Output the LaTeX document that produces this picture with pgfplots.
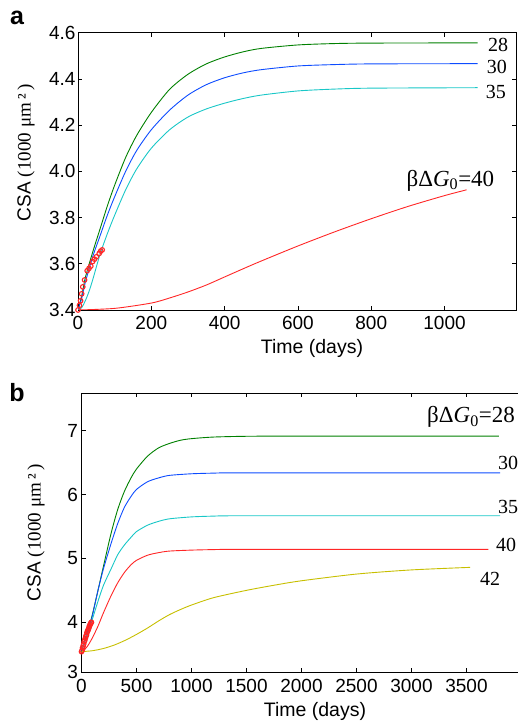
\documentclass[border=0pt]{standalone}
\usepackage{fontspec}
\setmainfont{Liberation Sans}
\newfontfamily\serif{Liberation Serif}
\usepackage{pgfplots}
\pgfplotsset{compat=1.18}
\definecolor{cgreen}{rgb}{0,0.5,0}
\definecolor{cblue}{rgb}{0.05,0.3,1}
\definecolor{ccyan}{rgb}{0.1,0.78,0.78}
\definecolor{cred}{rgb}{1,0.15,0.15}
\definecolor{cyel}{rgb}{0.78,0.75,0}
\pgfplotsset{
  mystyle/.style={
    scale only axis,
    axis line style={line width=0.8pt},
    tick style={line width=0.7pt, black},
    major tick length=4pt,
    tick align=inside,
    tick pos=both,
    /pgf/number format/assume math mode=true,
    /pgf/number format/1000 sep={},
    tick label style={font=\fontsize{19}{20}\selectfont},
    every axis plot/.append style={line width=0.9pt, smooth, tension=0.45},
  }
}
\begin{document}
\begin{tikzpicture}
% ---------------- panel a
\begin{axis}[mystyle,
  at={(78pt,413pt)}, anchor=south west,
  width=438pt, height=277.3pt,
  xmin=0, xmax=1195, ymin=3.4, ymax=4.6,
  xtick={0,200,400,600,800,1000},
  ytick={3.4,3.6,3.8,4.0,4.2,4.4,4.6},
  yticklabel style={/pgf/number format/fixed, /pgf/number format/fixed zerofill, /pgf/number format/precision=1},
  xticklabel style={yshift=-3pt},
  yticklabel style={xshift=1pt},
]
\addplot[cgreen] coordinates {(0,3.40)(10,3.46)(20,3.54)(40,3.65)(60,3.75)(80,3.85)(100,3.94)(130,4.06)(160,4.155)(200,4.255)(250,4.355)(300,4.42)(350,4.465)(400,4.495)(450,4.517)(500,4.532)(600,4.547)(700,4.553)(800,4.555)(1090,4.556)};
\addplot[cblue] coordinates {(0,3.40)(10,3.45)(20,3.52)(40,3.63)(60,3.72)(80,3.81)(100,3.89)(130,4.00)(160,4.09)(200,4.18)(250,4.265)(300,4.33)(350,4.375)(400,4.405)(450,4.426)(500,4.44)(600,4.456)(700,4.462)(800,4.465)(1090,4.466)};
\addplot[ccyan] coordinates {(0,3.40)(10,3.41)(20,3.44)(30,3.48)(40,3.53)(60,3.64)(80,3.73)(100,3.81)(130,3.92)(160,4.01)(200,4.10)(250,4.18)(300,4.235)(350,4.27)(400,4.295)(450,4.315)(500,4.33)(600,4.348)(700,4.356)(800,4.36)(1090,4.362)};
\addplot[cred] coordinates {(0,3.400)(100,3.407)(200,3.430)(250,3.452)(300,3.478)(350,3.508)(400,3.543)(450,3.578)(500,3.612)(600,3.677)(700,3.738)(800,3.795)(900,3.848)(1000,3.895)(1060,3.92)};
\addplot[only marks, mark=o, mark size=2.3pt, cred, line width=1.1pt] coordinates {(0,3.40)(4,3.42)(7,3.44)(10,3.47)(13,3.50)(18,3.53)(25,3.57)(30,3.58)(35,3.59)(40,3.61)(45,3.62)(50,3.63)(58,3.645)(62,3.655)(66,3.66)};
\node[font=\serif\fontsize{20}{20}\selectfont] at (axis cs:1146,4.549) {28};
\node[font=\serif\fontsize{20}{20}\selectfont] at (axis cs:1143,4.45) {30};
\node[font=\serif\fontsize{20}{20}\selectfont] at (axis cs:1140,4.342) {35};
\node[anchor=west, inner sep=0pt, font=\serif\fontsize{23}{24}\selectfont] at (axis cs:896,3.96) {βΔ\textit{G}\textsubscript{0}=40};
\end{axis}
\node[rotate=90, font=\fontsize{19}{20}\selectfont] at (26pt,570pt) {CSA {\serif(1000 μm\,²\,)}};
\node[font=\fontsize{19.5}{20}\selectfont] at (312pt,375pt) {Time (days)};
\node[font=\bfseries\fontsize{25}{26}\selectfont] at (17pt,705pt) {a};
% ---------------- panel b
\begin{axis}[mystyle,
  at={(81.5pt,50.7pt)}, anchor=south west,
  width=440pt, height=279pt,
  xmin=0, xmax=4000, ymin=3.217, ymax=7.585,
  xtick={0,500,1000,1500,2000,2500,3000,3500},
  ytick={3.217,4,5,6,7}, yticklabels={3,4,5,6,7},
  xticklabel style={yshift=-3pt},
]
\addplot[cgreen] coordinates {(0,3.54)(40,3.78)(90,4.06)(150,4.50)(200,4.88)(270,5.40)(330,5.77)(390,6.05)(450,6.26)(500,6.40)(600,6.60)(700,6.73)(800,6.80)(900,6.85)(1000,6.875)(1200,6.90)(1500,6.912)(2000,6.915)(3795,6.915)};
\addplot[cblue] coordinates {(0,3.54)(40,3.77)(90,4.04)(150,4.50)(200,4.84)(270,5.24)(330,5.55)(390,5.80)(450,5.97)(500,6.08)(600,6.20)(700,6.26)(800,6.30)(1000,6.325)(1200,6.335)(1500,6.34)(3805,6.34)};
\addplot[ccyan] coordinates {(0,3.54)(40,3.75)(90,4.00)(150,4.33)(200,4.58)(270,4.84)(330,5.06)(390,5.21)(450,5.33)(500,5.42)(600,5.52)(700,5.58)(800,5.62)(1000,5.65)(1200,5.662)(1500,5.668)(3805,5.668)};
\addplot[cred] coordinates {(0,3.54)(30,3.575)(60,3.64)(100,3.76)(150,3.94)(200,4.15)(270,4.42)(330,4.62)(390,4.78)(450,4.90)(500,4.97)(600,5.05)(700,5.09)(800,5.115)(1000,5.13)(1200,5.138)(1500,5.142)(3698,5.142)};
\addplot[cyel] coordinates {(0,3.54)(100,3.555)(200,3.59)(300,3.645)(400,3.72)(500,3.81)(600,3.91)(700,4.02)(800,4.12)(900,4.20)(1000,4.27)(1200,4.385)(1500,4.50)(1750,4.58)(2000,4.65)(2500,4.755)(3000,4.82)(3532,4.86)};
\addplot[only marks, mark=o, mark size=2.3pt, cred, line width=1.1pt] coordinates {(0,3.54)(5,3.56)(10,3.60)(15,3.63)(20,3.66)(25,3.70)(30,3.72)(35,3.75)(40,3.78)(45,3.80)(50,3.84)(55,3.86)(60,3.88)(65,3.90)(70,3.93)(75,3.95)(80,3.97)(85,3.99)(90,4.00)};
\node[anchor=west, inner sep=0pt, font=\serif\fontsize{23}{24}\selectfont] at (axis cs:3141,7.217) {βΔ\textit{G}\textsubscript{0}=28};
\node[anchor=west, inner sep=0pt, font=\serif\fontsize{20}{20}\selectfont] at (axis cs:3786,6.497) {30};
\node[anchor=west, inner sep=0pt, font=\serif\fontsize{20}{20}\selectfont] at (axis cs:3786,5.806) {35};
\node[anchor=west, inner sep=0pt, font=\serif\fontsize{20}{20}\selectfont] at (axis cs:3768,5.21) {40};
\node[font=\serif\fontsize{20}{20}\selectfont] at (axis cs:3714,4.68) {42};
\end{axis}
\node[rotate=90, font=\fontsize{19}{20}\selectfont] at (36pt,190pt) {CSA {\serif(1000 μm\,²\,)}};
\node[font=\fontsize{19.5}{20}\selectfont] at (315pt,11.3pt) {Time (days)};
\node[font=\bfseries\fontsize{25}{26}\selectfont] at (17pt,330pt) {b};
\pgfresetboundingbox
\useasboundingbox (0pt,0pt) rectangle (517pt,723pt);
\end{tikzpicture}
\end{document}
